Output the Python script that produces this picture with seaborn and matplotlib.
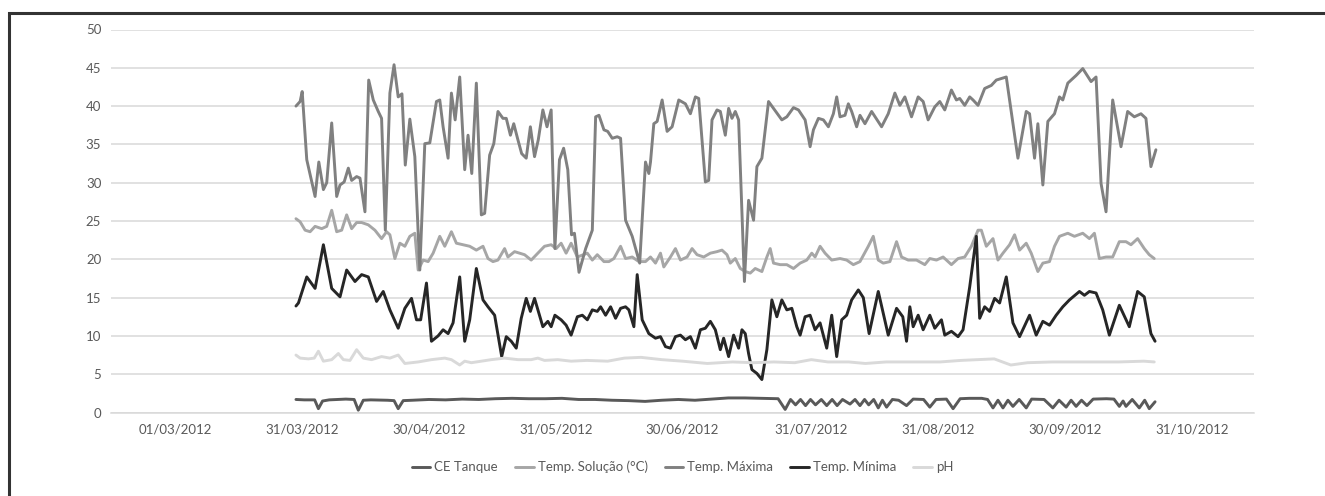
import pandas as pd
import numpy as np
import matplotlib
matplotlib.use('Agg')
import matplotlib.pyplot as plt
from matplotlib.patches import Rectangle
import seaborn as sns

# days counted from the first reading (14/04/2012)
start = pd.Timestamp('2012-04-14 12:00')

ce_days = [0, 2, 4.5, 5.4, 6.4, 8, 10, 12, 14, 15.0, 16.2, 18, 22, 23.6, 24.6, 25.8, 28, 32, 36, 40,
           44, 48, 52, 56, 60, 64, 68, 72, 76, 80, 84, 88, 92, 96, 100, 104, 108, 112, 116, 117.7,
           119, 120.2, 121.4, 122.6, 123.8, 125, 126.4, 127.7, 129, 130.2, 131.5, 133.3, 134.5, 135.7,
           136.8, 137.8, 139, 140.1, 141.1, 142.1, 143.5, 145, 146.9, 148.5, 151, 152.5, 154, 156.5,
           158.1, 159.8, 162, 165, 166.4, 167.7, 168.9, 170.1, 171.3, 172.5, 174, 175.7, 177, 180,
           182.1, 183.6, 185.3, 186.5, 187.7, 189, 190.3, 191.8, 195, 196.8, 198.1, 199, 199.7, 201.2,
           202.9, 204.2, 205.3, 206.7]
ce_tanque = [1.7, 1.65, 1.65, 0.5, 1.5, 1.65, 1.7, 1.75, 1.7, 0.3, 1.6, 1.65, 1.6, 1.55, 0.5, 1.55, 1.6, 1.7, 1.65, 1.75,
             1.7, 1.8, 1.85, 1.8, 1.8, 1.85, 1.7, 1.7, 1.6, 1.55, 1.45, 1.6, 1.7, 1.6, 1.75, 1.9, 1.9, 1.85, 1.8, 0.4,
             1.7, 1.0, 1.7, 0.9, 1.7, 1.0, 1.7, 0.9, 1.7, 0.9, 1.7, 1.1, 1.7, 0.9,
             1.7, 1.0, 1.7, 0.6, 1.6, 0.7, 1.7, 1.6, 0.9, 1.75, 1.7, 0.7, 1.7, 1.75,
             0.5, 1.8, 1.85, 1.85, 1.7, 0.6, 1.6, 0.6, 1.6, 0.8, 1.7, 0.6, 1.75, 1.7,
             0.6, 1.6, 0.7, 1.6, 0.8, 1.6, 0.9, 1.75, 1.8, 1.75, 0.8, 1.5, 0.8, 1.7,
             0.6, 1.6, 0.5, 1.4]

sol_days = [0, 1.0, 2.2, 3.4, 4.6, 6.2, 7.4, 8.6, 9.8, 11.0, 12.2, 13.4, 14.6, 15.8, 17.4, 19.0, 20.6, 21.8,
            22.6, 23.8, 25.0, 26.2, 27.4, 28.6, 29.4, 30.6, 31.8, 33.0, 34.6, 35.8, 37.4, 38.6, 40.2, 41.8,
            43.4, 45.0, 46.2, 47.4, 48.6, 50.2, 51.0, 52.6, 53.8, 55.0, 56.6, 58.2, 59.8, 61.4, 62.6, 63.8,
            65.0, 66.2, 67.7, 70.1, 71.3, 72.5, 74.1, 75.3, 76.5, 78.1, 79.3, 80.9, 82.5, 84.1, 85.3, 86.5,
            87.7, 88.5, 90.1, 91.3, 92.5, 94.1, 95.3, 96.5, 98.1, 99.7, 101.3, 102.5, 103.7, 104.5, 105.7,
            106.9, 108.1, 109.3, 110.5, 112.1, 113.3, 114.1, 114.9, 116.5, 118.1, 119.7, 121.3, 122.9, 124.1,
            124.9, 126.1, 127.3, 128.9, 130.9, 132.5, 134.1, 135.7, 137.7, 138.9, 140.1, 141.3, 142.9, 144.5,
            145.7, 147.3, 149.3, 151.3, 152.5, 154.1, 155.7, 157.7, 159.3, 160.9, 162.5, 164.1, 164.9, 166.1,
            167.7, 168.9, 170.1, 171.7, 172.9, 174.1, 175.7, 176.9, 178.5, 179.7, 181.3, 182.5, 183.7, 185.7,
            187.3, 189.3, 190.9, 192.1, 193.3, 194.9, 196.5, 198.1, 199.7, 200.9, 202.5, 204.1, 205.3, 206.5]
temp_solucao = [25.3, 24.9, 23.8, 23.6, 24.3, 24.0, 24.3, 26.4, 23.6, 23.8, 25.8, 24.0, 24.8, 24.8, 24.5, 23.8, 22.7, 23.6,
                23.2, 20.1, 22.1, 21.7, 23.0, 23.4, 18.6, 19.9, 19.7, 20.8, 23.0, 21.7, 23.6, 22.1, 21.9, 21.7,
                21.2, 21.7, 20.1, 19.7, 19.9, 21.4, 20.3, 21.0, 20.8, 20.6, 19.9, 20.8, 21.7, 21.9, 21.4, 22.1,
                20.8, 22.1, 20.3, 20.8, 19.9, 20.6, 19.7, 19.7, 20.1, 21.7, 20.1, 20.3, 19.7, 19.7, 20.3, 19.5,
                20.8, 19.0, 20.3, 21.4, 19.9, 20.3, 21.4, 20.6, 20.3, 20.8, 21.0, 21.2, 20.6, 19.5, 20.1,
                18.8, 18.4, 18.2, 18.8, 18.4, 20.3, 21.4, 19.5, 19.3, 19.3, 18.8, 19.5, 19.9, 20.8,
                20.3, 21.7, 20.8, 19.9, 20.1, 19.9, 19.3, 19.7, 21.7, 23.0, 19.9, 19.5, 19.7, 22.3,
                20.3, 19.9, 19.9, 19.3, 20.1, 19.9, 20.3, 19.3, 20.1, 20.3, 21.7, 23.8, 23.8, 21.7,
                22.7, 19.9, 20.8, 21.9, 23.2, 21.2, 22.1, 20.8, 18.4, 19.5, 19.7, 21.7, 23.0, 23.4,
                23.0, 23.4, 22.7, 23.4, 20.1, 20.3, 20.3, 22.3, 22.3, 21.9, 22.7, 21.4, 20.6, 20.1]

max_days = [0, 1.0, 1.5, 2.6, 4.6, 5.5, 6.6, 7.4, 8.6, 9.8, 10.6, 11.6, 12.6, 13.4, 14.6, 15.4, 16.6, 17.5,
            18.6, 19.8, 20.6, 21.5, 22.6, 23.6, 24.6, 25.5, 26.3, 27.4, 28.6, 29.8, 31.0, 32.2, 33.8, 34.6,
            35.4, 36.6, 37.4, 38.3, 39.4, 40.6, 41.4, 42.3, 43.4, 44.6, 45.4, 46.6, 47.6, 48.6, 49.8, 50.6,
            51.6, 52.4, 53.4, 54.3, 55.4, 56.4, 57.4, 58.3, 59.4, 60.4, 61.4, 62.3, 63.4, 64.4, 65.4, 66.3,
            67.0, 68.1, 69.7, 71.3, 72.1, 72.9, 74.1, 75.0, 76.1, 77.3, 78.1, 79.3, 80.9, 82.7, 84.1, 84.9,
            85.3, 86.1, 86.9, 88.1, 89.3, 90.5, 92.1, 93.7, 94.9, 96.1, 96.9, 98.5, 99.3, 100.1, 101.3, 102.1,
            103.3, 104.1, 104.9, 105.7, 106.5, 107.9, 108.9, 110.1, 110.9, 112.1, 113.7, 114.9, 116.9, 118.1,
            119.7, 120.9, 122.5, 123.7, 124.5, 125.7, 126.9, 128.1, 129.3, 130.1, 130.9, 132.1, 132.9, 133.7,
            134.9, 135.7, 136.9, 138.5, 140.9, 142.5, 144.1, 145.3, 146.5, 148.1, 149.7, 150.9, 152.1, 153.7,
            154.9, 156.1, 157.7, 158.9, 159.7, 160.9, 162.1, 162.9, 164.1, 165.7, 167.3, 168.5, 170.9, 172.5,
            173.7, 175.7, 176.5, 177.7, 178.5, 179.7, 180.9, 182.5, 183.7, 184.5, 185.7, 187.7, 189.3, 191.3,
            192.5, 193.7, 194.9, 196.5, 198.5, 200.1, 201.7, 203.3, 204.5, 205.7, 206.9]
temp_maxima = [40.0, 40.6, 41.9, 33.0, 28.2, 32.7, 29.1, 30.0, 37.8, 28.2, 29.7, 30.1, 31.9, 30.3, 30.8, 30.6, 26.2, 43.4,
               40.8, 39.3, 38.4, 23.8, 41.7, 45.4, 41.2, 41.6, 32.3, 38.3, 33.4, 18.6, 35.1, 35.2, 40.6, 40.8,
               37.3, 33.2, 41.7, 38.2, 43.8, 31.7, 36.2, 31.2, 43.0, 25.8, 26.0, 33.6, 35.1, 39.3, 38.4, 38.4,
               36.2, 37.7, 35.6, 33.8, 33.2, 37.3, 33.4, 35.6, 39.5, 37.3, 39.5, 21.4, 33.0, 34.5, 31.7, 23.2,
               23.4, 18.3, 21.4, 23.8, 38.6, 38.8, 36.9, 36.7, 35.8, 36.0, 35.8, 25.1, 23.0, 19.5, 32.7, 31.2,
               32.7, 37.7, 38.0, 40.8, 36.7, 37.3, 40.8, 40.3, 39.0, 41.2, 41.0, 30.1, 30.3, 38.2, 39.5, 39.3,
               36.2, 39.7, 38.4, 39.3, 38.2, 17.1, 27.7, 25.1, 32.1, 33.2, 40.6, 39.7, 38.2, 38.6,
               39.8, 39.5, 38.2, 34.7, 36.9, 38.4, 38.2, 37.3, 39.0, 41.2, 38.6, 38.8, 40.3, 39.3,
               37.3, 38.8, 37.7, 39.3, 37.3, 39.0, 41.7, 40.1, 41.2, 38.6, 41.2, 40.6, 38.2, 39.9,
               40.6, 39.5, 42.1, 40.8, 41.0, 40.1, 41.2, 40.8, 40.1, 42.3, 42.7, 43.4, 43.8, 37.7,
               33.2, 39.3, 39.0, 33.2, 37.7, 29.7, 38.0, 39.0, 41.2, 40.8, 43.0, 44.0, 44.9, 43.2,
               43.8, 29.9, 26.2, 40.8, 34.7, 39.3, 38.6, 39.0, 38.4, 32.1, 34.3]

min_days = [0, 0.6, 2.6, 4.6, 6.6, 8.6, 10.6, 12.2, 14.2, 15.8, 17.4, 19.4, 21.0, 22.6, 24.6, 26.2, 27.8, 29.0,
            30.0, 31.4, 32.6, 34.2, 35.4, 36.6, 37.8, 39.4, 40.6, 41.8, 43.4, 45.0, 46.2, 47.8, 49.5, 50.6,
            51.8, 53.0, 54.2, 55.4, 56.4, 57.4, 59.4, 60.6, 61.4, 62.3, 63.8, 65.0, 66.2, 67.7, 68.9, 70.1,
            71.3, 72.5, 73.3, 74.5, 75.7, 76.9, 78.1, 79.3, 80.1, 81.3, 82.1, 83.3, 84.9, 86.5, 87.7, 88.9,
            90.1, 91.3, 92.5, 93.7, 94.9, 96.1, 97.3, 98.5, 99.7, 100.9, 102.1, 102.9, 104.1, 105.3, 106.5,
            107.3, 108.1, 108.9, 109.7, 110.9, 112.1, 113.3, 114.5, 115.7, 116.9, 118.1, 119.3, 120.5, 121.3,
            122.5, 123.7, 124.9, 126.1, 127.7, 128.9, 130.1, 131.3, 132.5, 133.7, 135.3, 136.5, 137.9, 140.1,
            142.5, 144.5, 146.0, 146.9, 147.7, 148.5, 149.7, 150.9, 152.5, 153.7, 155.3, 156.1, 157.7, 159.3,
            160.5, 162.1, 163.7, 164.5, 165.7, 166.9, 168.1, 169.3, 170.9, 172.5, 174.1, 176.5, 178.1, 179.7,
            181.3, 182.9, 184.5, 186.1, 188.5, 189.7, 190.9, 192.5, 194.1, 195.7, 198.1, 200.5, 202.5, 204.1,
            205.7, 206.7]
temp_minima = [13.9, 14.3, 17.7, 16.2, 21.9, 16.2, 15.1, 18.6, 17.1, 18.0, 17.7, 14.5, 15.8, 13.4, 11.0, 13.6, 14.9, 12.1,
               12.1, 16.9, 9.3, 10.0, 10.8, 10.3, 11.7, 17.7, 9.3, 12.1, 18.8, 14.7, 13.8, 12.7, 7.3, 9.9,
               9.3, 8.4, 12.3, 14.9, 13.2, 14.9, 11.2, 11.9, 11.2, 12.7, 12.1, 11.4, 10.1, 12.5, 12.7, 12.1,
               13.4, 13.2, 13.8, 12.7, 13.8, 12.3, 13.6, 13.8, 13.4, 11.2, 18.0, 12.1, 10.3, 9.7, 9.9, 8.6,
               8.4, 9.9, 10.1, 9.5, 9.9, 8.4, 10.8, 11.0, 11.9, 10.8, 8.2, 9.7, 7.3, 10.1, 8.4,
               10.8, 10.3, 7.7, 5.6, 5.1, 4.3, 8.2, 14.7, 12.5, 14.7, 13.4, 13.6, 11.2, 10.1,
               12.5, 12.7, 10.8, 11.7, 8.4, 12.7, 7.3, 12.1, 12.7, 14.7, 16.0, 15.0, 10.3, 15.8,
               10.1, 13.6, 12.5, 9.3, 13.8, 11.2, 12.7, 10.8, 12.7, 11.0, 12.1, 10.1, 10.6, 9.9,
               10.8, 16.4, 23.0, 12.3, 13.8, 13.2, 14.9, 14.3, 17.7, 11.7, 9.9, 12.7, 10.1, 11.9,
               11.4, 12.7, 13.8, 14.7, 15.8, 15.3, 15.8, 15.6, 13.4, 10.1, 14.0, 11.2, 15.8, 15.1,
               10.3, 9.3]

ph_days = [0, 1, 3, 4.4, 5.4, 6.6, 8.6, 10.2, 11.4, 13, 14.6, 16.2, 18.2, 20.6, 22.6, 24.6, 26.2, 29.4, 32.6,
           35.8, 37.4, 39.4, 40.6, 42.2, 44.6, 47, 50.2, 53.4, 56.6, 58.2, 59.8, 63, 66.2, 70, 75, 79, 83, 88,
           93, 99, 105, 110, 115, 120, 124, 128, 133, 137, 142, 148, 155, 160, 168, 172, 176, 182, 190, 198,
           204, 206.5]
ph = [7.5, 7.1, 7.0, 7.1, 8.0, 6.7, 6.9, 7.7, 6.9, 6.8, 8.2, 7.1, 6.9, 7.3, 7.1, 7.5, 6.4, 6.6, 6.9,
      7.1, 6.9, 6.2, 6.7, 6.5, 6.7, 6.9, 7.1, 6.9, 6.9, 7.1, 6.8, 6.9, 6.7, 6.8, 6.7, 7.1, 7.2, 6.9,
      6.7, 6.4, 6.6, 6.5, 6.6, 6.5, 6.9, 6.6, 6.6, 6.4, 6.6, 6.6, 6.6, 6.8, 7.0, 6.2, 6.5, 6.6, 6.6, 6.6,
      6.7, 6.6]

series_names = ['CE Tanque', 'Temp. Solução (°C)', 'Temp. Máxima', 'Temp. Mínima', 'pH']
series_colors = ['#595959', '#a6a6a6', '#808080', '#262626', '#d9d9d9']
tick_labels = ['01/03/2012', '31/03/2012', '30/04/2012', '31/05/2012', '30/06/2012',
               '31/07/2012', '31/08/2012', '30/09/2012', '31/10/2012']

parts = []
for name, d, v in zip(series_names,
                      [ce_days, sol_days, max_days, min_days, ph_days],
                      [ce_tanque, temp_solucao, temp_maxima, temp_minima, ph]):
    parts.append(pd.DataFrame({'data': start + pd.to_timedelta(d, unit='D'), 'valor': v, 'serie': name}))
df = pd.concat(parts, ignore_index=True)

sns.set_style('white')
plt.rcParams['font.family'] = ['Lato', 'DejaVu Sans']

fig = plt.figure(figsize=(13.25, 4.96), dpi=100)
ax = fig.add_axes([111 / 1325, 83.5 / 496, 1143 / 1325, 383 / 496])

sns.lineplot(data=df, x='data', y='valor', hue='serie', hue_order=series_names,
             palette=dict(zip(series_names, series_colors)), linewidth=2.1, sort=True,
             estimator=None, solid_joinstyle='round', solid_capstyle='round', ax=ax)

ax.set_ylim(0, 50)
ax.set_yticks(range(0, 51, 5))
ax.yaxis.grid(True, color='#d9d9d9', linewidth=1.1)
ax.set_axisbelow(True)

months = pd.date_range('2012-03-01', '2012-12-01', freq='MS')
mids = months[:-1] + (months[1:] - months[:-1]) / 2
ax.set_xlim(months[0], months[-1])
ax.set_xticks(months)
ax.set_xticklabels([''] * len(months))
ax.set_xticks(mids, minor=True)
ax.set_xticklabels(tick_labels, minor=True)
ax.tick_params(axis='x', which='major', length=5, width=1, color='#d9d9d9', direction='out')
ax.tick_params(axis='x', which='minor', length=0, pad=8, labelsize=9.5, labelcolor='#595959')
ax.tick_params(axis='y', length=0, pad=7, labelsize=9.5, labelcolor='#595959')
ax.set_xlabel('')
ax.set_ylabel('')

for s in ['left', 'right', 'top']:
    ax.spines[s].set_visible(False)
ax.spines['bottom'].set_color('#d9d9d9')
ax.spines['bottom'].set_linewidth(1.1)

sns.move_legend(ax, 'center', bbox_to_anchor=(0.5, -0.142), ncol=5, frameon=False, title=None,
                fontsize=9.5, handlelength=1.4, handletextpad=0.3, columnspacing=1.3)
for t in ax.get_legend().get_texts():
    t.set_color('#595959')

fig.patches.append(Rectangle((9 / 1325, -0.1), 1.2, 1.1 - 13 / 496, transform=fig.transFigure,
                             fill=False, edgecolor='#333333', linewidth=2.2))

fig.savefig('out.png', dpi=100)
